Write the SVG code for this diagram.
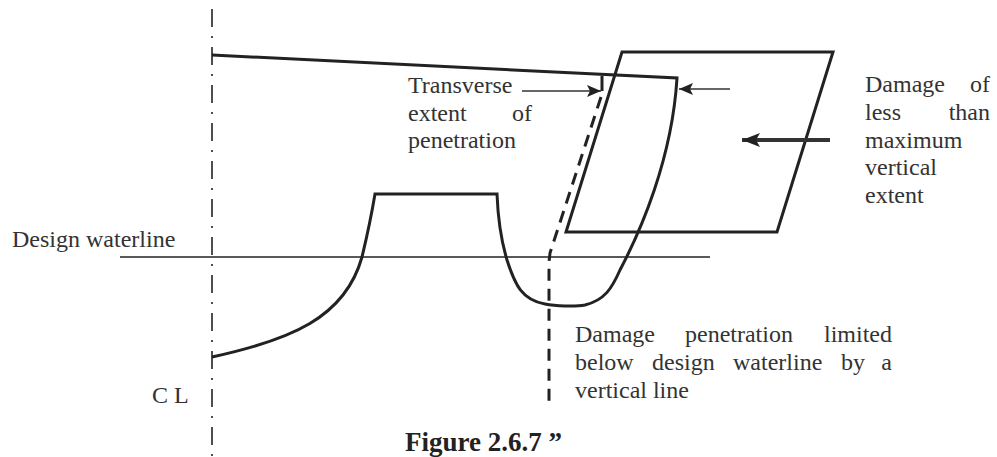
<svg xmlns="http://www.w3.org/2000/svg" width="997" height="457" viewBox="0 0 997 457" font-family="'Liberation Serif', 'Times New Roman', serif">
<style>
  text { font-family: 'Liberation Serif', 'Times New Roman', serif; font-size: 24px; fill: #333; }
  .end { text-anchor: end; }
  .cap { font-weight: bold; font-size: 27px; fill: #222; }
  .thick { fill: none; stroke: #222; stroke-width: 3; stroke-linejoin: miter; }
  .thin { fill: none; stroke: #222; stroke-width: 1.6; }
  .cl { fill: none; stroke: #222; stroke-width: 1.6; stroke-dasharray: 18 9 2 9; }
  .dash { fill: none; stroke: #222; stroke-width: 3; stroke-dasharray: 12 8; }
  .arr { fill: none; stroke: #333; stroke-width: 1.6; }
  .arrb { fill: none; stroke: #333; stroke-width: 4; }
</style>
<defs>
  <marker id="ah" markerUnits="userSpaceOnUse" markerWidth="16" markerHeight="14" refX="14" refY="7" orient="auto">
    <path d="M0,1 L14,7 L0,13 L3,7 Z" fill="#222"/>
  </marker>
  <marker id="ahb" markerUnits="userSpaceOnUse" markerWidth="20" markerHeight="16" refX="18" refY="8" orient="auto">
    <path d="M0,1 L18,8 L0,15 L4,8 Z" fill="#222"/>
  </marker>
</defs>
<rect width="997" height="457" fill="#fff"/>

<g id="centerline">
  <line class="cl" x1="212" y1="9" x2="212" y2="457"/>
</g>

<g id="waterline">
  <line class="thin" x1="120" y1="257" x2="710" y2="257"/>
</g>

<g id="hull">
  <path class="thick" d="M212,357 C290,340 345,318 362,257 C368,232 372,212 375,194 L497,194 C498,220 501,240 507,260 C515,285 522,300 545,304 C555,306 575,307 585,305 C605,300 612,288 620,270 C640,232 672,160 677,78 L212,55"/>
  <path class="thick" d="M602,76 L602,91"/>
</g>

<g id="damage-box">
  <polygon class="thick" points="622,52 833,52 777,232 566,232"/>
</g>

<g id="penetration-limit">
  <path class="dash" d="M601,97 L550,253 L549,262 L549,402"/>
</g>

<g id="connectors">
  <line class="arr" x1="522" y1="91" x2="601" y2="91" marker-end="url(#ah)"/>
  <line class="arr" x1="730" y1="89" x2="679" y2="89" marker-end="url(#ah)"/>
  <line class="arrb" x1="830" y1="140" x2="742" y2="140" marker-end="url(#ahb)"/>
</g>

<g id="label-waterline">
  <text x="12" y="247">Design waterline</text>
</g>
<g id="label-cl">
  <text x="152" y="403">C L</text>
</g>
<g id="label-transverse">
  <text x="408" y="93">Transverse</text>
  <text x="408" y="121">extent</text>
  <text x="532" y="121" class="end">of</text>
  <text x="408" y="148">penetration</text>
</g>
<g id="label-damage">
  <text x="865" y="92">Damage</text>
  <text x="990" y="92" class="end">of</text>
  <text x="865" y="120">less</text>
  <text x="990" y="120" class="end">than</text>
  <text x="865" y="148">maximum</text>
  <text x="865" y="175">vertical</text>
  <text x="865" y="203">extent</text>
</g>
<g id="label-limit">
  <text x="575" y="342">Damage</text>
  <text x="685" y="342">penetration</text>
  <text x="892" y="342" class="end">limited</text>
  <text x="575" y="370">below</text>
  <text x="652" y="370">design</text>
  <text x="733" y="370">waterline</text>
  <text x="841" y="370">by</text>
  <text x="892" y="370" class="end">a</text>
  <text x="575" y="398">vertical line</text>
</g>
<g id="caption">
  <text class="cap" x="405" y="451">Figure 2.6.7 ”</text>
</g>
</svg>
